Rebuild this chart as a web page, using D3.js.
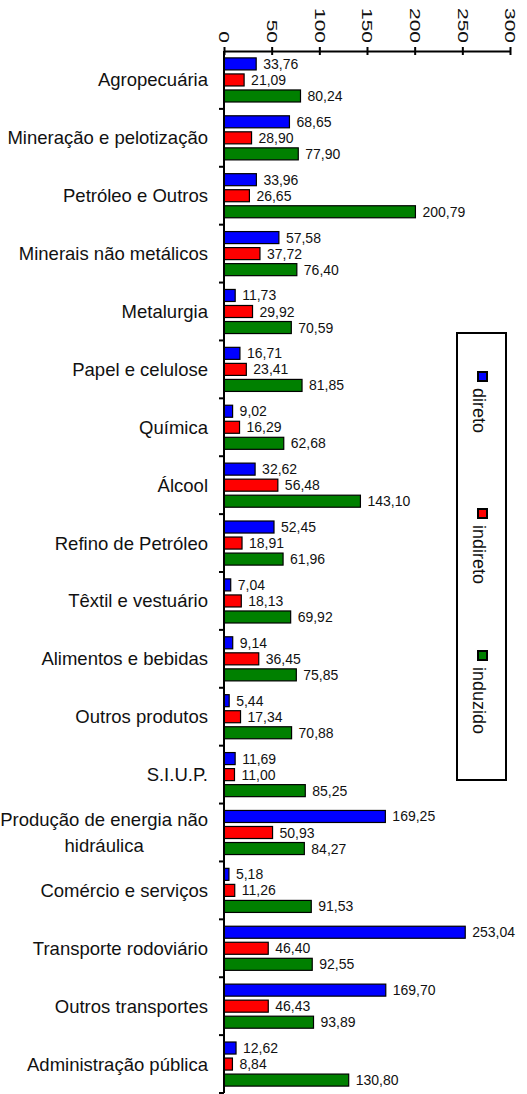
<!DOCTYPE html>
<html>
<head>
<meta charset="utf-8">
<script src="https://cdn.jsdelivr.net/npm/d3@7"></script>
<style>
  body { margin: 0; background: #fff; }
  text { font-family: "Liberation Sans", Arial, sans-serif; fill: #111; }
</style>
</head>
<body>
<svg id="chart"></svg>
<script>
// categories (a "\n" marks a line break in the label)
const categories = [
    "Agropecuária", "Mineração e pelotização", "Petróleo e Outros",
    "Minerais não metálicos", "Metalurgia", "Papel e celulose", "Química",
    "Álcool", "Refino de Petróleo", "Têxtil e vestuário", "Alimentos e bebidas",
    "Outros produtos", "S.I.U.P.", "Produção de energia não\nhidráulica",
    "Comércio e serviços", "Transporte rodoviário", "Outros transportes",
    "Administração pública"
];
const direto = [33.76, 68.65, 33.96, 57.58, 11.73, 16.71, 9.02, 32.62, 52.45,
    7.04, 9.14, 5.44, 11.69, 169.25, 5.18, 253.04, 169.70, 12.62];
const indireto = [21.09, 28.90, 26.65, 37.72, 29.92, 23.41, 16.29, 56.48, 18.91,
    18.13, 36.45, 17.34, 11.00, 50.93, 11.26, 46.40, 46.43, 8.84];
const induzido = [80.24, 77.90, 200.79, 76.40, 70.59, 81.85, 62.68, 143.10, 61.96,
    69.92, 75.85, 70.88, 85.25, 84.27, 91.53, 92.55, 93.89, 130.80];
const seriesNames = ["direto", "indireto", "induzido"];
const seriesColors = ["#0000ff", "#ff0000", "#008000"];
const xTicks = [0, 50, 100, 150, 200, 250, 300];

const width = 527, height = 1094;
const margin = { top: 51, left: 224, right: 17, bottom: 1 };

const svg = d3.select('#chart')
    .attr('width', width)
    .attr('height', height);

const chart = svg.append('g')
    .attr('transform', `translate(${margin.left},${margin.top})`);

const innerW = width - margin.left - margin.right;
const innerH = height - margin.top - margin.bottom;

const xScale = d3.scaleLinear().domain([0, 300]).range([0, innerW]);
const yScale = d3.scaleBand().domain(categories).range([0, innerH]);
const ySub = d3.scaleBand().domain(seriesNames)
    .range([0, yScale.bandwidth()])
    .paddingInner(0.25)
    .paddingOuter(0.43);

const fmt = v => d3.format('.2f')(v).replace('.', ',');

// rows of data
const rows = categories.map((c, i) => ({
    cat: c,
    vals: [direto[i], indireto[i], induzido[i]]
}));

// bars + value labels
const groups = chart.selectAll('.grp')
    .data(rows)
    .enter()
    .append('g')
    .attr('class', 'grp')
    .attr('transform', d => `translate(0,${yScale(d.cat)})`);

groups.selectAll('rect')
    .data(d => d.vals.map((v, k) => ({ v, k })))
    .enter()
    .append('rect')
    .attr('x', 0)
    .attr('y', d => ySub(seriesNames[d.k]))
    .attr('width', d => xScale(d.v))
    .attr('height', ySub.bandwidth())
    .attr('fill', d => seriesColors[d.k])
    .attr('stroke', '#000')
    .attr('stroke-width', 1.2);

groups.selectAll('.val')
    .data(d => d.vals.map((v, k) => ({ v, k })))
    .enter()
    .append('text')
    .attr('class', 'val')
    .attr('x', d => xScale(d.v) + 7)
    .attr('y', d => ySub(seriesNames[d.k]) + ySub.bandwidth() / 2)
    .attr('dy', '0.36em')
    .attr('font-size', '14px')
    .text(d => fmt(d.v));

// x axis on top
const xAxis = d3.axisTop(xScale).tickValues(xTicks).tickSize(4).tickSizeOuter(0);
const xAxisG = chart.append('g').attr('class', 'x-axis').call(xAxis);
xAxisG.select('.domain').attr('stroke', '#000').attr('stroke-width', 2);
xAxisG.selectAll('.tick line').attr('y1', 4).attr('y2', -4).attr('stroke-width', 2);
xAxisG.selectAll('.tick text')
    .attr('x', null).attr('y', null).attr('dy', '0.36em')
    .attr('text-anchor', 'end')
    .attr('font-family', '"Liberation Sans", Arial, sans-serif')
    .attr('font-size', '14px')
    .attr('fill', '#111')
    .attr('transform', 'translate(0,-8) rotate(90) scale(1.5,1)');

// y axis line and ticks between categories
chart.append('line')
    .attr('x1', 0).attr('x2', 0)
    .attr('y1', 0).attr('y2', innerH)
    .attr('stroke', '#000').attr('stroke-width', 2);

const bounds = categories.map(c => yScale(c)).concat([yScale.range()[1]]);
chart.selectAll('.ytick')
    .data(bounds.slice(1))
    .enter()
    .append('line')
    .attr('class', 'ytick')
    .attr('x1', -5).attr('x2', 0)
    .attr('y1', d => d).attr('y2', d => d)
    .attr('stroke', '#000').attr('stroke-width', 2);

// category labels
const labelRight = -16;
const lineH = 26;
categories.forEach(c => {
    const lines = c.split('\n');
    const cy = yScale(c) + yScale.bandwidth() / 2;
    const t = chart.append('text')
        .attr('font-size', '18.5px')
        .attr('text-anchor', lines.length > 1 ? 'middle' : 'end');
    lines.forEach((ln, j) => {
        t.append('tspan')
            .attr('x', labelRight)
            .attr('y', cy + (j - (lines.length - 1) / 2) * lineH)
            .attr('dy', '0.35em')
            .text(ln);
    });
    if (lines.length > 1) {
        const w = d3.max(t.selectAll('tspan').nodes(), n => n.getComputedTextLength());
        t.selectAll('tspan').attr('x', labelRight - w / 2);
    }
});

// legend
const legend = svg.append('g');
legend.append('rect')
    .attr('x', 457).attr('y', 333)
    .attr('width', 49).attr('height', 447)
    .attr('fill', '#fff')
    .attr('stroke', '#000').attr('stroke-width', 2);

const legendY = [372, 509, 651];
seriesNames.forEach((s, k) => {
    legend.append('rect')
        .attr('x', 478).attr('y', legendY[k])
        .attr('width', 9).attr('height', 9)
        .attr('fill', seriesColors[k])
        .attr('stroke', '#000').attr('stroke-width', 2);
    legend.append('text')
        .attr('transform', `translate(479,${legendY[k] + 16}) rotate(90)`)
        .attr('dy', '0.35em')
        .attr('font-size', '18px')
        .text(s);
});
</script>
</body>
</html>
